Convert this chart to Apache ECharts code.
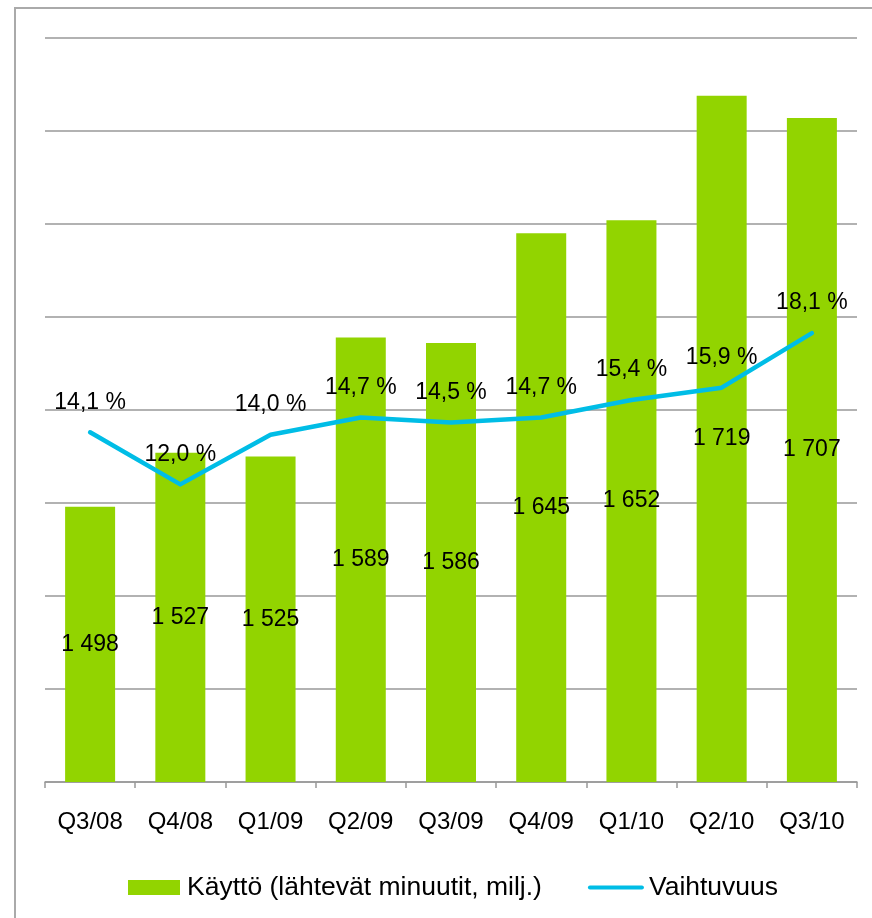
<!DOCTYPE html>
<html>
<head>
<meta charset="utf-8">
<script src="https://cdn.jsdelivr.net/npm/echarts@6/dist/echarts.min.js"></script>
<style>
html,body{margin:0;padding:0;background:#fff;}
#c{width:872px;height:918px;}
</style>
</head>
<body>
<div id="c"></div>
<script>
const categories = ['Q3/08','Q4/08','Q1/09','Q2/09','Q3/09','Q4/09','Q1/10','Q2/10','Q3/10'];
const usage = [1498,1527,1525,1589,1586,1645,1652,1719,1707];
const churn = [14.1,12.0,14.0,14.7,14.5,14.7,15.4,15.9,18.1];
const seriesNames = ['Käyttö (lähtevät minuutit, milj.)','Vaihtuvuus'];

const FONT = 'Liberation Sans, Arial, sans-serif';
const LINE_COLOR = '#00BDE6';
const BAR_COLOR = '#92D400';
const LINE_ICON = 'path://M2,0 L54,0 A2,2 0 0 1 54,4 L2,4 A2,2 0 0 1 2,0 Z';
const BAR_ICON = 'path://M0,0 L52,0 L52,15 L0,15 Z';
const chart = echarts.init(document.getElementById('c'), null, {renderer:'canvas'});
chart.setOption({
  backgroundColor:'#fff',
  animation:false,
  textStyle:{fontFamily:FONT,color:'#000'},
  graphic:[{type:'rect',shape:{x:15,y:8,width:900,height:960},style:{fill:'none',stroke:'#aaaaaa',lineWidth:2},silent:true,z:-1}],
  grid:{left:45,right:15,top:38,bottom:136,containLabel:false},
  legend:{
    left:128, top:874, padding:0, itemWidth:56, itemHeight:15, itemGap:46,
    textStyle:{fontFamily:FONT,fontSize:26.5,color:'#000'},
    data:[{name:seriesNames[0],icon:BAR_ICON},
          {name:seriesNames[1],icon:LINE_ICON,itemStyle:{color:LINE_COLOR,opacity:1,borderWidth:0}}]
  },
  xAxis:{
    type:'category', data:categories, boundaryGap:true,
    axisLine:{lineStyle:{color:'#999',width:1.5}},
    axisTick:{show:true,length:6,alignWithLabel:false,lineStyle:{color:'#999',width:1.5}},
    axisLabel:{margin:28,fontSize:24,color:'#000',fontFamily:FONT}
  },
  yAxis:[
    {type:'value',min:1350,max:1750,interval:50,
     axisLabel:{show:false},axisLine:{show:false},axisTick:{show:false},
     splitLine:{lineStyle:{color:'#999',width:1.5}}},
    {type:'value',min:0,max:30,interval:3.75,
     axisLabel:{show:false},axisLine:{show:false},axisTick:{show:false},splitLine:{show:false}}
  ],
  series:[
    {name:seriesNames[0],type:'bar',data:usage,yAxisIndex:0,barWidth:50,
     itemStyle:{color:BAR_COLOR},
     label:{show:true,position:'inside',fontSize:23,color:'#000',fontFamily:FONT,
       formatter:p=>String(p.value).replace(/\B(?=(\d{3})+(?!\d))/g,' ')}},
    {name:seriesNames[1],type:'line',data:churn,yAxisIndex:1,
     symbol:'circle',symbolSize:1,showSymbol:true,
     lineStyle:{color:LINE_COLOR,width:4.5,cap:'round',join:'round'},
     itemStyle:{color:LINE_COLOR},
     label:{show:true,position:'top',distance:18,fontSize:23,color:'#000',fontFamily:FONT,
       formatter:p=>p.value.toFixed(1).replace('.',',')+' %'}}
  ]
});
</script>
</body>
</html>
